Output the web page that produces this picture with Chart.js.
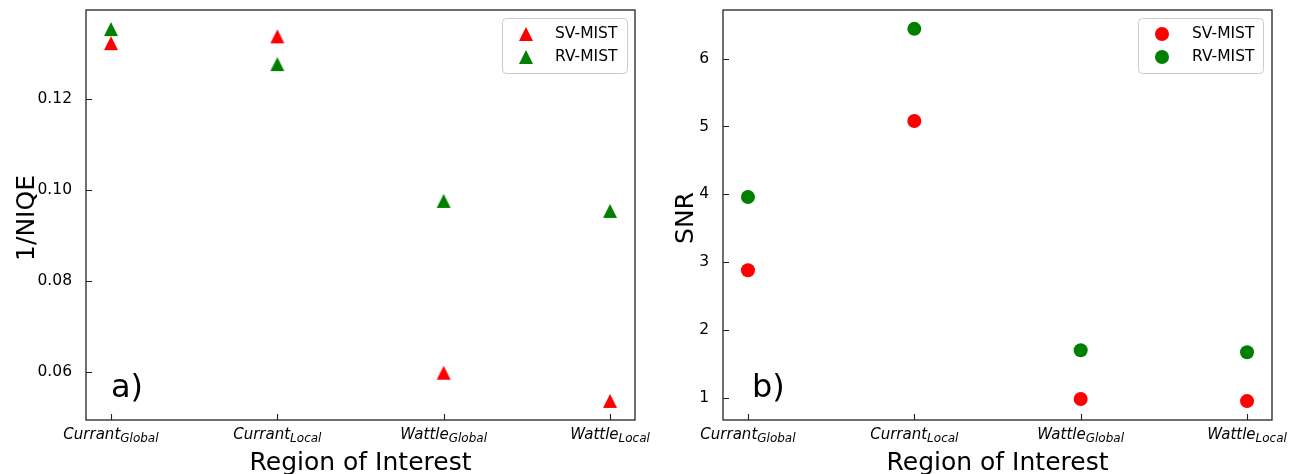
<!DOCTYPE html>
<html><head><meta charset="utf-8">
<script src="https://cdn.jsdelivr.net/npm/chart.js@4/dist/chart.umd.min.js"></script>
<style>
html,body{margin:0;padding:0;background:#fff;}
#wrap{position:relative;width:1303px;height:474px;overflow:hidden;background:#fff;}
.c{position:absolute;top:0;height:474px;}
</style></head><body>
<div id="wrap">
<div class="c" style="left:0;width:650px"><canvas id="ca"></canvas></div>
<div class="c" style="left:650px;width:653px"><canvas id="cb"></canvas></div>
</div>
<script>
// ---- data ----
const regionNames = ['Currant', 'Currant', 'Wattle', 'Wattle'];
const regionSubs = ['Global', 'Local', 'Global', 'Local'];
const seriesNames = ['SV-MIST', 'RV-MIST'];
const niqeSV = [0.1323, 0.1338, 0.0598, 0.0536];
const niqeRV = [0.1354, 0.1277, 0.0976, 0.0954];
const snrSV = [2.88, 5.08, 0.98, 0.95];
const snrRV = [3.96, 6.44, 1.70, 1.67];
const niqeTicks = [0.06, 0.08, 0.10, 0.12];
const snrTicks = [1, 2, 3, 4, 5, 6];

const FONT = '"DejaVu Sans", sans-serif';
const RED = '#ff0000', GREEN = '#008000';

// matplotlib-style '^' marker (bbox-centred, width == height)
function triangleMarker(color) {
  const c = document.createElement('canvas');
  c.width = 16; c.height = 16;
  const g = c.getContext('2d');
  g.fillStyle = color;
  g.beginPath(); g.moveTo(1, 15); g.lineTo(15, 15); g.lineTo(8, 1); g.closePath(); g.fill();
  return c;
}

function makePanel(id, cfg) {
  const pts = arr => arr.map((v, i) => ({x: i, y: v}));
  const styleFor = col => cfg.style === 'triangle' ? triangleMarker(col) : 'circle';
  const panelPlugin = {
    id: 'panel_' + id,
    afterDraw(chart) {
      const ctx = chart.ctx, ca = chart.chartArea;
      const xs = chart.scales.x, ys = chart.scales.y;
      ctx.save();
      // frame
      ctx.strokeStyle = '#222'; ctx.lineWidth = 1.3;
      ctx.strokeRect(ca.left, ca.top, ca.right - ca.left, ca.bottom - ca.top);
      // inward ticks
      ctx.beginPath();
      cfg.yTicks.forEach(v => { const y = Math.round(ys.getPixelForValue(v)) + 0.5; ctx.moveTo(ca.left, y); ctx.lineTo(ca.left + 6, y); });
      regionNames.forEach((n, i) => { const x = Math.round(xs.getPixelForValue(i)) + 0.5; ctx.moveTo(x, ca.bottom); ctx.lineTo(x, ca.bottom - 6); });
      ctx.lineWidth = 1.1; ctx.stroke();
      // x tick labels with subscripts
      ctx.fillStyle = '#000'; ctx.textBaseline = 'alphabetic'; ctx.textAlign = 'left';
      regionNames.forEach((n, i) => {
        const x = xs.getPixelForValue(i);
        ctx.font = 'italic 15px ' + FONT; const w1 = ctx.measureText(n).width;
        ctx.font = 'italic 12px ' + FONT; const w2 = ctx.measureText(regionSubs[i]).width;
        const x0 = x - (w1 + w2) / 2;
        ctx.font = 'italic 15px ' + FONT; ctx.fillText(n, x0, 439);
        ctx.font = 'italic 12px ' + FONT; ctx.fillText(regionSubs[i], x0 + w1, 442);
      });
      // x title
      ctx.font = '25px ' + FONT; ctx.textAlign = 'center';
      ctx.fillText('Region of Interest', (ca.left + ca.right) / 2, 470);
      // y title
      ctx.save(); ctx.translate(cfg.yTitleX, (ca.top + ca.bottom) / 2 + 3); ctx.rotate(-Math.PI / 2);
      ctx.textBaseline = 'middle'; ctx.fillText(cfg.yTitle, 0, 0); ctx.restore();
      // panel letter
      ctx.font = '32px ' + FONT; ctx.textAlign = 'left'; ctx.textBaseline = 'alphabetic';
      ctx.fillText(cfg.letter, cfg.letterX, 397);
      // legend
      const L = cfg.legend;
      ctx.fillStyle = 'rgba(255,255,255,0.8)'; ctx.strokeStyle = '#cccccc'; ctx.lineWidth = 1;
      ctx.beginPath(); ctx.roundRect(L.x + 0.5, L.y + 0.5, L.w, L.h, 4); ctx.fill(); ctx.stroke();
      chart.data.datasets.forEach((ds, k) => {
        const yy = L.y + 16 + k * 23;
        if (typeof ds.pointStyle === 'string') {
          ctx.beginPath(); ctx.arc(L.mx, yy, ds.pointRadius, 0, Math.PI * 2);
          ctx.fillStyle = ds.backgroundColor; ctx.fill();
        } else {
          ctx.drawImage(ds.pointStyle, Math.round(L.mx - 8), Math.round(yy - 8));
        }
        ctx.fillStyle = '#000'; ctx.font = '15.5px ' + FONT; ctx.textBaseline = 'middle'; ctx.textAlign = 'left';
        ctx.fillText(ds.label, L.tx, yy);
      });
      ctx.restore();
    }
  };
  return new Chart(document.getElementById(id), {
    type: 'scatter',
    data: {
      datasets: [
        {label: seriesNames[0], data: pts(cfg.sv), pointStyle: styleFor(RED), pointRadius: cfg.r, pointHoverRadius: cfg.r, backgroundColor: RED, borderColor: RED, borderWidth: 0},
        {label: seriesNames[1], data: pts(cfg.rv), pointStyle: styleFor(GREEN), pointRadius: cfg.r, pointHoverRadius: cfg.r, backgroundColor: GREEN, borderColor: GREEN, borderWidth: 0}
      ]
    },
    options: {
      responsive: true, maintainAspectRatio: false, animation: false, devicePixelRatio: 1,
      layout: {autoPadding: false, padding: {left: 0, right: cfg.padRight, top: 10, bottom: 0}},
      plugins: {legend: {display: false}, tooltip: {enabled: false}},
      scales: {
        x: {type: 'linear', min: -0.15, max: 3.15,
            afterBuildTicks: s => { s.ticks = regionNames.map((n, i) => ({value: i})); },
            ticks: {display: false}, grid: {display: false}, border: {display: false},
            afterFit: s => { s.height = 54; s.paddingLeft = 0; s.paddingRight = 0; }},
        y: {type: 'linear', min: cfg.yMin, max: cfg.yMax,
            afterBuildTicks: s => { s.ticks = cfg.yTicks.map(v => ({value: v})); },
            ticks: {color: '#000', font: {family: FONT, size: 15.5}, padding: 6,
                    callback: v => cfg.fmt(v)},
            grid: {display: false}, border: {display: false},
            afterFit: s => { s.width = cfg.leftW; s.paddingTop = 0; s.paddingBottom = 0; }}
      }
    },
    plugins: [panelPlugin]
  });
}

makePanel('ca', {sv: niqeSV, rv: niqeRV, style: 'triangle', r: 8, yMin: 0.0494, yMax: 0.1396,
  yTicks: niqeTicks, fmt: v => v.toFixed(2), leftW: 86, padRight: 15, yTitle: '1/NIQE', yTitleX: 27,
  letter: 'a)', letterX: 111, legend: {x: 502, y: 18, w: 125, h: 55, mx: 526, tx: 555}});
makePanel('cb', {sv: snrSV, rv: snrRV, style: 'circle', r: 7, yMin: 0.671, yMax: 6.718,
  yTicks: snrTicks, fmt: v => String(v), leftW: 73, padRight: 31, yTitle: 'SNR', yTitleX: 36,
  letter: 'b)', letterX: 102, legend: {x: 488, y: 18, w: 125, h: 55, mx: 512, tx: 542}});
</script>
</body></html>
